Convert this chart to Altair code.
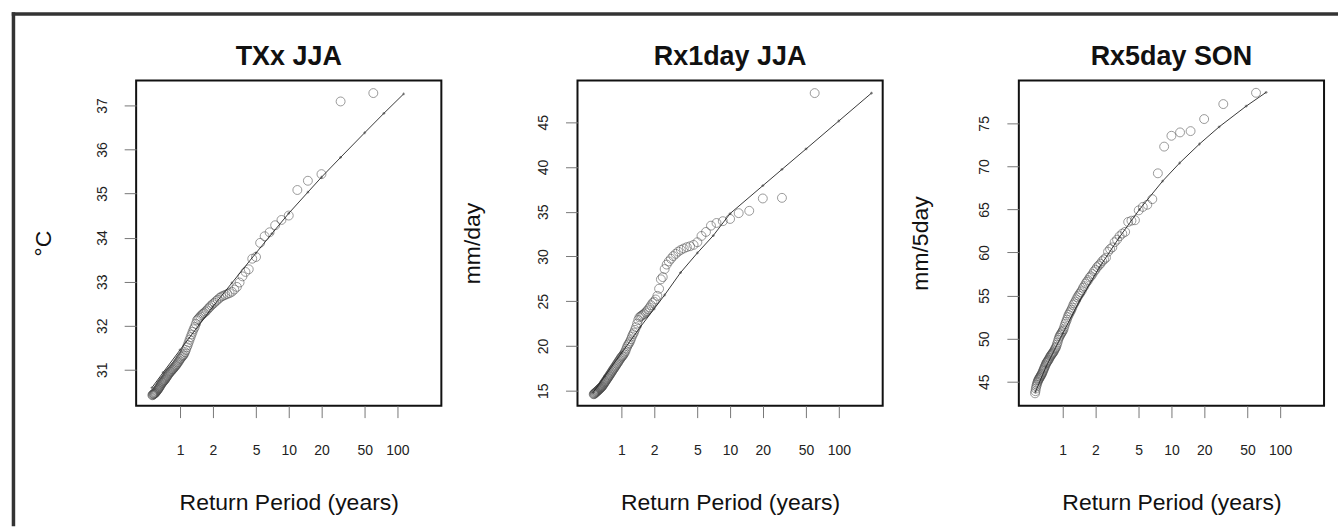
import altair as alt
import pandas as pd

FONT = "Liberation Sans"

# Empirical return periods (years) of the ranked sample, largest value first
RETURN_PERIOD = [
    60, 30, 20, 15, 12, 10, 8.571, 7.5, 6.667, 6,
    5.455, 5, 4.615, 4.286, 4, 3.75, 3.529, 3.333, 3.158, 3,
    2.857, 2.727, 2.609, 2.5, 2.4, 2.308, 2.222, 2.143, 2.069, 2,
    1.935, 1.875, 1.818, 1.765, 1.714, 1.667, 1.622, 1.579, 1.538, 1.5,
    1.463, 1.429, 1.395, 1.364, 1.333, 1.304, 1.277, 1.25, 1.224, 1.2,
    1.176, 1.154, 1.132, 1.111, 1.091, 1.071, 1.053, 1.034, 1.017, 1,
    0.984, 0.968, 0.952, 0.938, 0.923, 0.909, 0.896, 0.882, 0.870, 0.857,
    0.845, 0.833, 0.822, 0.811, 0.8, 0.789, 0.779, 0.769, 0.759, 0.75,
    0.741, 0.732, 0.723, 0.714, 0.706, 0.698, 0.690, 0.682, 0.674, 0.667,
    0.659, 0.652, 0.645, 0.638, 0.632, 0.625, 0.619, 0.612, 0.606, 0.6,
    0.594, 0.588, 0.583, 0.577, 0.571, 0.566, 0.561, 0.556,
]

# TXx JJA (deg C), ranked
TXX_OBS = [
    37.28, 37.09, 35.44, 35.29, 35.08, 34.50, 34.40, 34.28, 34.12, 34.03,
    33.88, 33.56, 33.52, 33.28, 33.22, 33.12, 32.98, 32.88, 32.82, 32.77,
    32.74, 32.72, 32.70, 32.68, 32.66, 32.63, 32.59, 32.56, 32.52, 32.49,
    32.46, 32.42, 32.39, 32.35, 32.32, 32.29, 32.27, 32.24, 32.21, 32.18,
    32.15, 32.12, 32.04, 31.97, 31.92, 31.86, 31.80, 31.74, 31.68, 31.62,
    31.56, 31.51, 31.45, 31.40, 31.36, 31.33, 31.31, 31.29, 31.26, 31.24,
    31.21, 31.18, 31.16, 31.13, 31.11, 31.09, 31.07, 31.05, 31.03, 31.01,
    31.00, 30.98, 30.96, 30.95, 30.93, 30.91, 30.89, 30.87, 30.85, 30.83,
    30.81, 30.79, 30.77, 30.76, 30.74, 30.73, 30.71, 30.70, 30.68, 30.66,
    30.64, 30.62, 30.60, 30.58, 30.57, 30.55, 30.54, 30.52, 30.51, 30.49,
    30.48, 30.47, 30.46, 30.45, 30.45, 30.44, 30.43, 30.42,
]
TXX_FIT_T = [0.55, 0.7, 1, 1.5, 2, 3, 5, 7, 10, 15, 20, 30, 50, 75, 114]
TXX_FIT_Y = [30.59, 30.94, 31.45, 32.02, 32.43, 32.97, 33.65, 34.09, 34.55,
             35.03, 35.37, 35.82, 36.38, 36.82, 37.26]

# Rx1day JJA (mm/day), ranked
RX1_OBS = [
    48.27, 36.56, 36.49, 35.11, 34.85, 34.20, 33.95, 33.75, 33.45, 32.75,
    32.30, 31.60, 31.30, 31.15, 31.05, 30.90, 30.75, 30.55, 30.30, 30.05,
    29.75, 29.45, 29.10, 28.60, 27.70, 27.45, 26.40, 25.60, 25.20, 24.95,
    24.80, 24.55, 24.30, 24.10, 23.90, 23.75, 23.60, 23.50, 23.40, 23.30,
    23.20, 22.90, 22.50, 22.10, 21.80, 21.50, 21.30, 21.05, 20.75, 20.50,
    20.30, 20.15, 19.95, 19.70, 19.45, 19.25, 19.10, 18.95, 18.85, 18.75,
    18.62, 18.49, 18.36, 18.23, 18.10, 17.99, 17.86, 17.74, 17.62, 17.51,
    17.40, 17.29, 17.18, 17.06, 16.95, 16.84, 16.73, 16.64, 16.53, 16.43,
    16.34, 16.25, 16.14, 16.05, 15.96, 15.87, 15.78, 15.68, 15.59, 15.50,
    15.44, 15.38, 15.33, 15.27, 15.22, 15.16, 15.11, 15.06, 15.01, 14.96,
    14.92, 14.87, 14.83, 14.78, 14.73, 14.68, 14.64, 14.60,
]
RX1_FIT_T = [0.55, 0.7, 1, 1.5, 2, 2.5, 3.5, 5, 7, 10, 20, 30, 50, 100, 200]
RX1_FIT_Y = [14.8, 16.6, 19.2, 22.15, 24.15, 25.7, 28.2, 30.4, 32.34, 34.8,
             37.92, 39.74, 42.03, 45.15, 48.27]

# Rx5day SON (mm/5day), ranked
RX5_OBS = [
    78.55, 77.24, 75.50, 74.10, 73.95, 73.56, 72.30, 69.20, 66.20, 65.55,
    65.30, 64.90, 63.75, 63.70, 63.55, 62.40, 62.20, 61.90, 61.50, 61.20,
    60.60, 60.40, 60.10, 59.40, 59.20, 59.00, 58.70, 58.50, 58.30, 58.00,
    57.80, 57.50, 57.25, 57.10, 56.80, 56.60, 56.40, 56.10, 55.90, 55.60,
    55.40, 55.20, 55.00, 54.80, 54.55, 54.30, 54.10, 53.90, 53.60, 53.35,
    53.15, 52.95, 52.75, 52.50, 52.20, 51.95, 51.70, 51.40, 51.10, 50.90,
    50.75, 50.60, 50.45, 50.30, 50.10, 49.85, 49.55, 49.30, 49.05, 48.90,
    48.75, 48.60, 48.45, 48.35, 48.25, 48.15, 48.05, 47.95, 47.80, 47.70,
    47.55, 47.45, 47.35, 47.25, 47.15, 47.00, 46.85, 46.70, 46.55, 46.40,
    46.25, 46.10, 45.95, 45.85, 45.75, 45.65, 45.55, 45.45, 45.35, 45.25,
    45.15, 45.00, 44.85, 44.65, 44.45, 44.20, 43.90, 43.65,
]
RX5_FIT_T = [0.56, 0.7, 1, 1.43, 2.18, 3.31, 5.08, 8.3, 11.9, 18.1, 27.5,
             48.7, 74.3]
RX5_FIT_Y = [43.8, 46.7, 50.6, 54.4, 58.3, 61.75, 65.0, 68.3, 70.4, 72.6,
             74.6, 77.0, 78.6]

X_TICKS = [1, 2, 5, 10, 20, 50, 100]
X_DOMAIN = [0.3945, 253.5]

PANEL_W = 306
PANEL_H = 326


def panel(title, unit, obs, fit_t, fit_y, y_domain, y_ticks, title_x, frame=False):
    pts = pd.DataFrame({"period": RETURN_PERIOD, "value": obs})
    fit = pd.DataFrame({"period": fit_t, "value": fit_y})

    x = alt.X(
        "period:Q",
        title="Return Period (years)",
        scale=alt.Scale(type="log", domain=X_DOMAIN, nice=False),
        axis=alt.Axis(
            values=X_TICKS, format="d", grid=False, domain=False,
            tickSize=12, tickColor="#777", tickWidth=1,
            labelFont=FONT, labelFontSize=14, labelColor="#222",
            labelPadding=37, labelBaseline="alphabetic",
            labelFlush=False, labelOverlap=False,
            titleFont=FONT, titleFontSize=23, titleFontWeight="normal",
            titleColor="#111", titleY=104, titleBaseline="alphabetic",
        ),
    )
    y = alt.Y(
        "value:Q",
        title=unit,
        scale=alt.Scale(domain=y_domain, nice=False, zero=False),
        axis=alt.Axis(
            values=y_ticks, format="d", grid=False, domain=False,
            tickSize=12, tickColor="#777", tickWidth=1,
            labelFont=FONT, labelFontSize=14, labelColor="#222",
            labelAngle=270, labelAlign="center", labelBaseline="alphabetic",
            labelPadding=18, labelFlush=False, labelOverlap=False,
            titleFont=FONT, titleFontSize=23, titleFontWeight="normal",
            titleColor="#111", titleAngle=270, titleAlign="center",
            titleBaseline="alphabetic", titleX=title_x, titleY=PANEL_H / 2,
        ),
    )

    circles = alt.Chart(pts).mark_point(
        filled=False, size=80, color="#4d4d4d", strokeWidth=1, strokeOpacity=0.8
    ).encode(x=x, y=y)
    curve = alt.Chart(fit).mark_line(color="#222", strokeWidth=0.9).encode(x=x, y=y)
    knots = alt.Chart(fit).mark_point(
        shape="cross", size=8, filled=True, color="#333", opacity=0.6
    ).encode(x=x, y=y)

    # panel heading, centred over the plot box
    heading = alt.Chart(pd.DataFrame({"label": [title]})).mark_text(
        align="center", baseline="alphabetic", font=FONT, fontSize=27,
        fontWeight="bold", color="#111",
    ).encode(x=alt.value(PANEL_W / 2), y=alt.value(-16), text="label:N")

    layers = [circles, curve, knots, heading]
    if frame:
        edge = pd.DataFrame({"k": [0]})
        layers.append(
            alt.Chart(edge).mark_rule(color="#333", strokeWidth=3.5).encode(
                x=alt.value(-123), y=alt.value(-68.4), y2=alt.value(447)
            )
        )
        layers.append(
            alt.Chart(edge).mark_rule(color="#333", strokeWidth=3.5).encode(
                x=alt.value(-124.7), x2=alt.value(1205), y=alt.value(-66.7)
            )
        )

    return alt.layer(*layers).properties(width=PANEL_W, height=PANEL_H)


p1 = panel("TXx JJA", "°C", TXX_OBS, TXX_FIT_T, TXX_FIT_Y,
           [30.185, 37.566], [31, 32, 33, 34, 35, 36, 37], -86, frame=True)
p2 = panel("Rx1day JJA", "mm/day", RX1_OBS, RX1_FIT_T, RX1_FIT_Y,
           [13.33, 49.68], [15, 20, 25, 30, 35, 40, 45], -98)
p3 = panel("Rx5day SON", "mm/5day", RX5_OBS, RX5_FIT_T, RX5_FIT_Y,
           [42.22, 79.98], [45, 50, 55, 60, 65, 70, 75], -92)

chart = (
    alt.hconcat(p1, p2, p3, spacing=136.5, bounds="flush")
    .properties(padding={"left": 8.5, "top": 8, "right": 0, "bottom": 0},
                background="white")
    .configure_view(stroke="#111", strokeWidth=2)
)

chart.save("out.html", embed_options={"renderer": "svg", "actions": False})
